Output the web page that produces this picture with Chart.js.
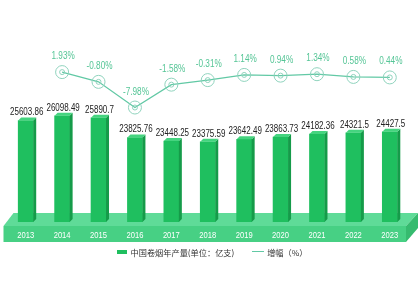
<!DOCTYPE html>
<html>
<head>
<meta charset="utf-8">
<script src="https://cdn.jsdelivr.net/npm/chart.js@4.4.1/dist/chart.umd.min.js"></script>
<style>
  html, body { margin: 0; padding: 0; background: #fff; }
  #wrap { position: relative; width: 420px; height: 305px; }
  #legend { position: absolute; left: 2px; top: 244px; width: 420px; text-align: center;
    font: 8.2px "Noto Sans CJK SC", sans-serif; color: #333; white-space: nowrap; }
  #legend span { display: inline-block; vertical-align: middle; }
  .sw-bar { width: 10px; height: 4px; background: #1fbf5f; margin-right: 4px; }
  .sw-line { width: 12px; height: 1px; background: #62c9a5; margin: 0 3px 0 16px; }
</style>
</head>
<body>
<div id="wrap">
  <canvas id="grafico" width="420" height="305"></canvas>
  <div id="legend">
    <span class="sw-bar"></span><span id="lg1"></span>
    <span class="sw-line"></span><span id="lg2"></span>
  </div>
</div>
<script>
const anios = ['2013', '2014', '2015', '2016', '2017', '2018', '2019', '2020', '2021', '2022', '2023'];
const produccion = [25603.86, 26098.49, 25890.7, 23825.76, 23448.25, 23375.59, 23642.49, 23863.73, 24182.36, 24321.5, 24427.5];
const etiquetasProduccion = ['25603.86', '26098.49', '25890.7', '23825.76', '23448.25', '23375.59', '23642.49', '23863.73', '24182.36', '24321.5', '24427.5'];
const crecimiento = [null, 1.93, -0.80, -7.98, -1.58, -0.31, 1.14, 0.94, 1.34, 0.58, 0.44];
const etiquetasCrecimiento = ['', '1.93%', '-0.80%', '-7.98%', '-1.58%', '-0.31%', '1.14%', '0.94%', '1.34%', '0.58%', '0.44%'];
const nombreBarras = '中国卷烟年产量(单位：亿支)';
const nombreLinea = '增幅（%）';

document.getElementById('lg1').innerText = nombreBarras;
document.getElementById('lg2').innerText = nombreLinea;

// texto estrecho (la fuente original es más condensada)
function textoEstrecho(ctx, txt, x, y, escala) {
  ctx.save();
  ctx.translate(x, y);
  ctx.scale(escala, 1);
  ctx.fillText(txt, 0, 0);
  ctx.restore();
}

// Plataforma 3D debajo de las barras
const plataforma = {
  id: 'plataforma',
  beforeDatasetsDraw(chart) {
    const { ctx, chartArea: a, scales } = chart;
    const b = a.bottom;
    ctx.save();
    // cara superior
    ctx.fillStyle = '#5fdb98';
    ctx.beginPath();
    ctx.moveTo(a.left + 6, b - 9);
    ctx.lineTo(a.right + 10, b - 9);
    ctx.lineTo(a.right - 2, b + 4);
    ctx.lineTo(a.left - 4, b + 4);
    ctx.closePath();
    ctx.fill();
    // cara frontal
    ctx.fillStyle = '#47d084';
    ctx.fillRect(a.left - 4, b + 4, a.right - a.left + 2, 16);
    // lateral derecho
    ctx.fillStyle = '#36bb6f';
    ctx.beginPath();
    ctx.moveTo(a.right - 2, b + 4);
    ctx.lineTo(a.right + 10, b - 9);
    ctx.lineTo(a.right + 10, b + 6);
    ctx.lineTo(a.right - 2, b + 20);
    ctx.closePath();
    ctx.fill();
    // años
    ctx.fillStyle = '#ffffff';
    ctx.font = '9.5px "Liberation Sans", Arial, sans-serif';
    ctx.textAlign = 'center';
    ctx.textBaseline = 'middle';
    anios.forEach((a2, i) => {
      textoEstrecho(ctx, a2, scales.x.getPixelForValue(i), b + 13, 0.8);
    });
    ctx.restore();
  },
  afterDatasetDraw(chart, args) {
    const { ctx } = chart;
    const meta = args.meta;
    ctx.save();
    if (meta.type === 'bar') {
      meta.data.forEach((bar, i) => {
        const w = bar.width, x0 = bar.x - w / 2, x1 = bar.x + w / 2;
        const d = 3, dy = 3;
        ctx.fillStyle = '#159b49';
        ctx.beginPath();
        ctx.moveTo(x1, bar.y);
        ctx.lineTo(x1 + d, bar.y - dy);
        ctx.lineTo(x1 + d, bar.base - dy);
        ctx.lineTo(x1, bar.base);
        ctx.closePath();
        ctx.fill();
        ctx.fillStyle = '#45d47f';
        ctx.beginPath();
        ctx.moveTo(x0, bar.y);
        ctx.lineTo(x0 + d, bar.y - dy);
        ctx.lineTo(x1 + d, bar.y - dy);
        ctx.lineTo(x1, bar.y);
        ctx.closePath();
        ctx.fill();
        ctx.fillStyle = '#222';
        ctx.font = '10px "Liberation Sans", Arial, sans-serif';
        ctx.textAlign = 'center';
        ctx.textBaseline = 'alphabetic';
        textoEstrecho(ctx, etiquetasProduccion[i], bar.x + 1, bar.y - 5, 0.8);
      });
    } else {
      meta.data.forEach((pt, i) => {
        if (crecimiento[i] === null) return;
        ctx.strokeStyle = '#8fd3bd';
        ctx.lineWidth = 1;
        ctx.beginPath();
        ctx.arc(pt.x, pt.y, 2.5, 0, Math.PI * 2);
        ctx.stroke();
        ctx.fillStyle = '#55c596';
        ctx.font = '10px "Liberation Sans", Arial, sans-serif';
        ctx.textAlign = 'center';
        ctx.textBaseline = 'alphabetic';
        textoEstrecho(ctx, etiquetasCrecimiento[i], pt.x + 1, pt.y - 13, 0.82);
      });
    }
    ctx.restore();
  }
};

new Chart(document.getElementById('grafico').getContext('2d'), {
  data: {
    labels: anios,
    datasets: [
      {
        type: 'line',
        label: nombreLinea,
        data: crecimiento,
        yAxisID: 'y2',
        borderColor: '#62c9a5',
        borderWidth: 1.2,
        pointRadius: 6.5,
        pointBorderColor: '#8fd3bd',
        pointBorderWidth: 1,
        pointBackgroundColor: 'rgba(255,255,255,0)',
        order: 0
      },
      {
        type: 'bar',
        label: nombreBarras,
        data: produccion,
        yAxisID: 'y',
        base: 15000,
        backgroundColor: '#1fbf5f',
        barThickness: 15,
        order: 1
      }
    ]
  },
  options: {
    responsive: false,
    animation: false,
    layout: { padding: { left: 7, right: 12, top: 4, bottom: 83 } },
    plugins: {
      legend: { display: false },
      tooltip: { enabled: false }
    },
    scales: {
      x: { display: false },
      y: { display: false, min: 15000, max: 37400 },
      y2: { display: false, position: 'right', min: -40, max: 20 }
    }
  },
  plugins: [plataforma]
});
</script>
</body>
</html>
